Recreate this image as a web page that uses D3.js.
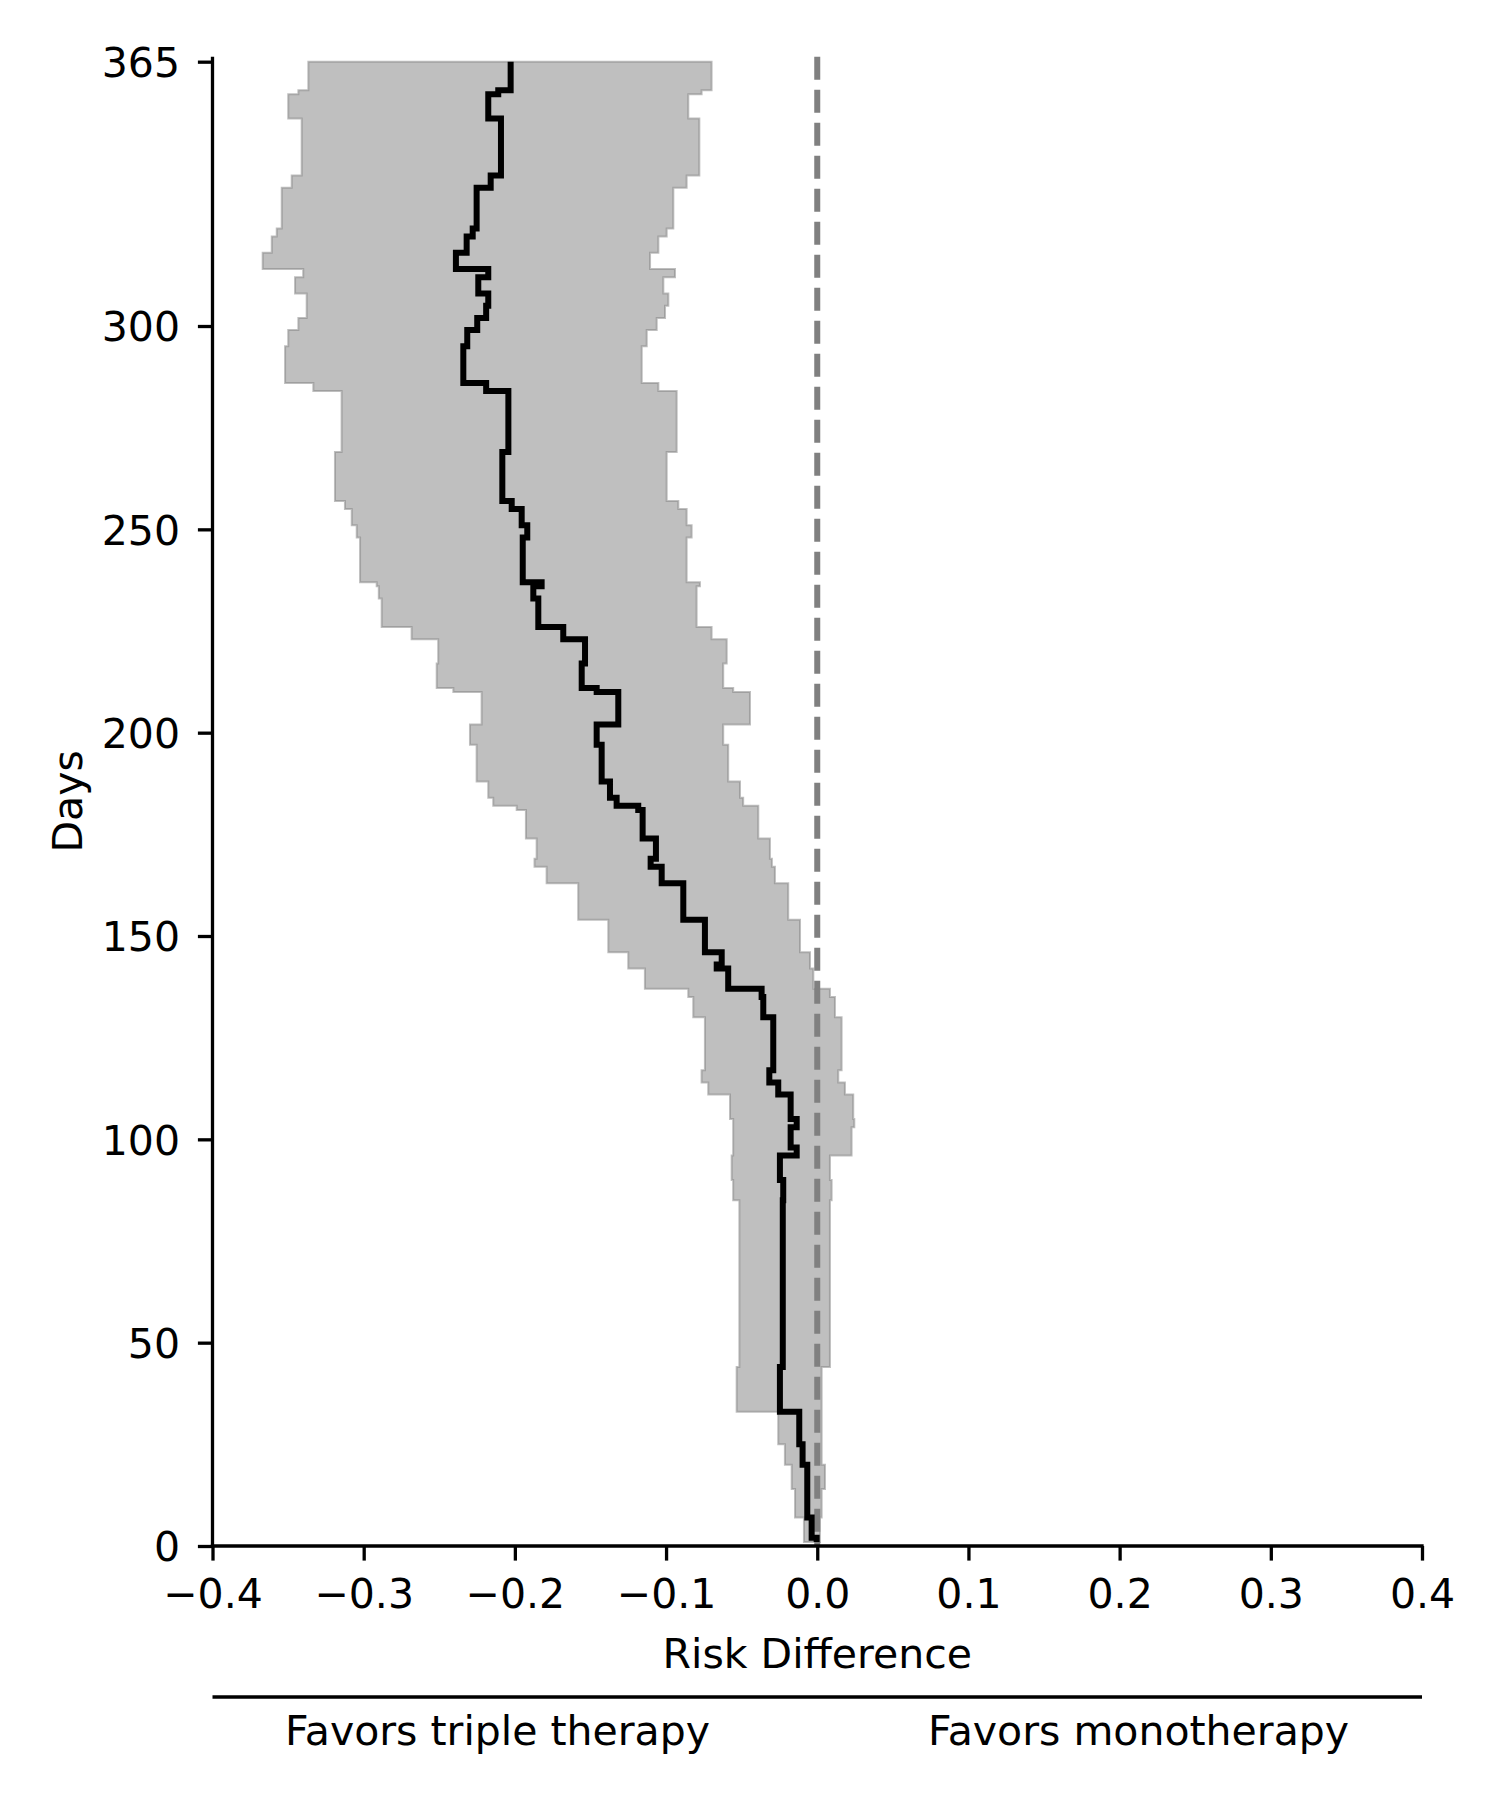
<!DOCTYPE html>
<html>
<head>
<meta charset="utf-8">
<script src="https://cdn.jsdelivr.net/npm/d3@7"></script>
<style>
  html, body { margin: 0; padding: 0; background: #ffffff; }
  svg { display: block; }
  text { font-family: "DejaVu Sans", sans-serif; fill: #000; }
</style>
</head>
<body>
<div id="chart"></div>
<script>
// ---- Data ----
// Start day of each step interval; the value holds until the next start day.
const days = [1,2,7,14,20,25,33,44,85,90,
  96,98,103,105,111,114,117,130,135,137,
  142,143,146,154,163,167,169,174,181,182,
  184,188,197,202,210,211,217,223,226,233,
  236,237,248,251,255,257,269,284,286,295,
  299,302,305,308,312,314,318,322,324,334,
  337,351,357,358];
const endDay = 365;

const median = [-0.0004,-0.0037,-0.0066,-0.0066,-0.0097,-0.0119,-0.0247,-0.0228,-0.0225,-0.0247,
  -0.0136,-0.0176,-0.0136,-0.0176,-0.0258,-0.0317,-0.0291,-0.0357,-0.0368,-0.0589,
  -0.0665,-0.0632,-0.0743,-0.0886,-0.1029,-0.1102,-0.1067,-0.1155,-0.1184,-0.1327,
  -0.1371,-0.1426,-0.1459,-0.1316,-0.1459,-0.1558,-0.1536,-0.168,-0.1845,-0.1878,
  -0.1823,-0.1948,-0.1918,-0.1955,-0.2021,-0.2083,-0.2043,-0.219,-0.2341,-0.2315,
  -0.2249,-0.219,-0.2176,-0.2242,-0.2176,-0.239,-0.2319,-0.2279,-0.2253,-0.216,
  -0.2092,-0.2176,-0.211,-0.2028];

const lower = [-0.0088,-0.0088,-0.0147,-0.0169,-0.0214,-0.0258,-0.0533,-0.0515,-0.0556,-0.0566,
  -0.0556,-0.0556,-0.0556,-0.0577,-0.0721,-0.0765,-0.0743,-0.082,-0.0853,-0.114,
  -0.125,-0.125,-0.1382,-0.1581,-0.179,-0.187,-0.1856,-0.1927,-0.1988,-0.2143,
  -0.2176,-0.2253,-0.2297,-0.222,-0.2407,-0.2517,-0.2507,-0.2683,-0.2881,-0.29,
  -0.2914,-0.3024,-0.3046,-0.3079,-0.3124,-0.319,-0.3146,-0.3333,-0.352,-0.3499,
  -0.3432,-0.3377,-0.3377,-0.3454,-0.340,-0.3668,-0.3608,-0.3575,-0.3542,-0.3476,
  -0.341,-0.3499,-0.3432,-0.3366];

const upper = [0.0018,0.0018,0.0029,0.0051,0.0029,0.0029,0.0029,0.0084,0.0095,0.0084,
  0.0227,0.0227,0.0245,0.0238,0.0183,0.0139,0.0161,0.0117,0.0084,-0.0026,
  -0.0048,-0.0048,-0.0114,-0.0192,-0.028,-0.030,-0.0313,-0.039,-0.039,-0.049,
  -0.0511,-0.0589,-0.0622,-0.0445,-0.0556,-0.0622,-0.0599,-0.0699,-0.0798,-0.0798,
  -0.0776,-0.0864,-0.0831,-0.0864,-0.0919,-0.0996,-0.093,-0.1051,-0.1161,-0.1128,
  -0.1062,-0.1007,-0.0985,-0.1018,-0.0941,-0.1106,-0.1051,-0.0996,-0.0952,-0.0864,
  -0.078,-0.0853,-0.0765,-0.0699];

const xTicks = [-0.4,-0.3,-0.2,-0.1,0.0,0.1,0.2,0.3,0.4];
const yTicks = [0,50,100,150,200,250,300,365];
const xLabel = "Risk Difference";
const yLabel = "Days";
const leftNote = "Favors triple therapy";
const rightNote = "Favors monotherapy";

// ---- Layout ----
const W = 1500, H = 1800;
const plot = { left: 212.5, right: 1422, top: 56.8, bottom: 1546 };
const fontSize = 41;
const lw = 3.3;

const svg = d3.select("#chart").append("svg")
  .attr("width", W).attr("height", H)
  .attr("viewBox", `0 0 ${W} ${H}`);
svg.append("rect").attr("width", W).attr("height", H).attr("fill", "#fff");

const x = d3.scaleLinear().domain([-0.4, 0.4]).range([plot.left, plot.right]);
const y = d3.scaleLinear().domain([0, 366.2]).range([plot.bottom, plot.top]);

// Build records incl. end point
const rows = days.map((d, i) => ({ day: d, med: median[i], lo: lower[i], hi: upper[i] }));
const last = rows[rows.length - 1];
rows.push({ day: endDay, med: last.med, lo: last.lo, hi: last.hi });

// Band
const area = d3.area()
  .y(d => y(d.day))
  .x0(d => x(d.lo))
  .x1(d => x(d.hi))
  .curve(d3.curveStepBefore);
svg.append("path")
  .datum(rows)
  .attr("d", area)
  .attr("fill", "#808080").attr("fill-opacity", 0.5)
  .attr("stroke", "#808080").attr("stroke-opacity", 0.5)
  .attr("stroke-width", 2);

// Reference line at 0
svg.append("line")
  .attr("x1", x(0)).attr("x2", x(0))
  .attr("y1", plot.top).attr("y2", plot.bottom)
  .attr("stroke", "#808080").attr("stroke-width", 6)
  .attr("stroke-dasharray", "23,10");

// Median step line
const line = d3.line()
  .x(d => x(d.med))
  .y(d => y(d.day))
  .curve(d3.curveStepBefore);
svg.append("path")
  .datum(rows)
  .attr("d", line)
  .attr("fill", "none")
  .attr("stroke", "#000")
  .attr("stroke-width", 6)
  .attr("stroke-linejoin", "miter");

// Axes
const fmt = d3.format(".1f");
const xAxis = d3.axisBottom(x).tickValues(xTicks).tickSize(14.6).tickSizeOuter(0)
  .tickFormat(d => fmt(d));
const gx = svg.append("g").attr("transform", `translate(0,${plot.bottom})`).call(xAxis);
gx.select(".domain").attr("stroke", "#000").attr("stroke-width", lw)
  .attr("d", `M${plot.left - lw/2},0H${plot.right + lw/2}`);
gx.selectAll(".tick line").attr("stroke", "#000").attr("stroke-width", lw);
gx.selectAll(".tick text")
  .attr("y", 62).attr("dy", 0)
  .attr("font-size", fontSize).attr("font-family", "DejaVu Sans")
  .attr("fill", "#000");

const yAxis = d3.axisLeft(y).tickValues(yTicks).tickSize(14.6).tickSizeOuter(0)
  .tickFormat(d3.format("d"));
const gy = svg.append("g").attr("transform", `translate(${plot.left},0)`).call(yAxis);
gy.select(".domain").attr("stroke", "#000").attr("stroke-width", lw)
  .attr("d", `M0,${plot.top}V${plot.bottom + lw/2}`);
gy.selectAll(".tick line").attr("stroke", "#000").attr("stroke-width", lw);
gy.selectAll(".tick text")
  .attr("x", -32.5).attr("dy", "0.36em")
  .attr("font-size", fontSize).attr("font-family", "DejaVu Sans")
  .attr("fill", "#000");

// Axis labels
svg.append("text")
  .attr("x", (plot.left + plot.right) / 2).attr("y", 1668)
  .attr("text-anchor", "middle").attr("font-size", fontSize)
  .text(xLabel);

svg.append("text")
  .attr("transform", `translate(82,${(plot.top + plot.bottom) / 2}) rotate(-90)`)
  .attr("text-anchor", "middle").attr("font-size", fontSize)
  .text(yLabel);

// Bottom annotation line and notes
svg.append("line")
  .attr("x1", plot.left).attr("x2", plot.right)
  .attr("y1", 1697).attr("y2", 1697)
  .attr("stroke", "#000").attr("stroke-width", 3.3);

svg.append("text")
  .attr("x", 497.5).attr("y", 1745)
  .attr("text-anchor", "middle").attr("font-size", fontSize)
  .text(leftNote);
svg.append("text")
  .attr("x", 1138.5).attr("y", 1745)
  .attr("text-anchor", "middle").attr("font-size", fontSize)
  .text(rightNote);
</script>
</body>
</html>
